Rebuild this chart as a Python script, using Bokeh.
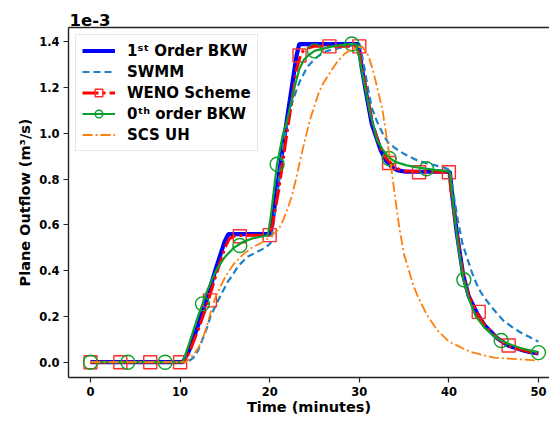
from bokeh.plotting import figure
from bokeh.models import (Range1d, LinearAxis, FixedTicker, Legend, LegendItem,
                          NumeralTickFormatter)
from bokeh.embed import file_html
from bokeh.resources import INLINE

# ---------------- data (values in 1e-3 m^3/s, time in minutes) ----------------
bkw1_t = [0, 10.3, 11, 12, 13, 14, 15, 15.4, 20.1, 20.5, 21, 22, 23, 23.3, 29.9,
          30.3, 30.7, 31.4, 32.4, 33.0, 33.7, 34.3, 35.2, 40.1, 40.4, 40.9, 41.6,
          42.2, 43.2, 44, 45.4, 46.6, 48, 49, 50]
bkw1_y = [0, 0, 0.05, 0.16, 0.28, 0.41, 0.53, 0.56, 0.56, 0.67, 0.81, 1.08, 1.34, 1.39, 1.39,
          1.28, 1.19, 1.04, 0.925, 0.88, 0.85, 0.838, 0.832, 0.832, 0.72, 0.56, 0.38,
          0.29, 0.21, 0.16, 0.105, 0.073, 0.055, 0.045, 0.038]

swmm_t = [0, 10.8, 11.5, 12, 12.5, 13, 13.4, 14, 14.5, 15.3, 16, 16.5, 17.5, 18.5, 19.5,
          20.1, 20.5, 21, 21.6, 22.3, 23, 23.4, 24.2, 24.9, 25.5, 26.4, 27.5, 28.5, 29.5,
          30.1, 30.5, 31, 31.4, 32, 32.6, 33.2, 34, 35, 36.3, 37.4, 38.5, 39.5, 40.1,
          40.5, 41, 41.5, 42, 42.5, 43, 43.5, 44, 45, 46, 47, 48, 49, 50]
swmm_y = [0, 0, 0.02, 0.05, 0.10, 0.15, 0.20, 0.25, 0.29, 0.35, 0.39, 0.42, 0.46, 0.48, 0.50,
          0.52, 0.62, 0.79, 0.97, 1.11, 1.19, 1.23, 1.29, 1.32, 1.34, 1.36, 1.37, 1.38, 1.385,
          1.38, 1.30, 1.19, 1.11, 1.05, 1.0, 0.96, 0.935, 0.91, 0.885, 0.87, 0.86, 0.85, 0.84,
          0.74, 0.62, 0.52, 0.46, 0.40, 0.35, 0.31, 0.28, 0.23, 0.185, 0.155, 0.13, 0.11, 0.09]

weno_t = [0, 10.4, 11, 12, 13, 14, 15, 15.5, 16, 17, 20, 20.3, 21, 22, 23, 23.5, 24, 25,
          29.8, 30.3, 30.8, 31.5, 32.4, 33, 33.8, 34.5, 35, 40, 40.3, 40.9, 41.6, 42.2,
          43.2, 44, 45.4, 46.6, 48, 49, 50]
weno_y = [0, 0, 0.04, 0.14, 0.25, 0.38, 0.50, 0.54, 0.55, 0.555, 0.555, 0.60, 0.75, 1.02,
          1.28, 1.35, 1.37, 1.38, 1.38, 1.29, 1.18, 1.04, 0.93, 0.89, 0.86, 0.84, 0.835,
          0.83, 0.73, 0.56, 0.38, 0.29, 0.21, 0.16, 0.105, 0.073, 0.055, 0.045, 0.038]
weno_mark_t = [0, 3.33, 6.67, 10, 13.33, 16.67, 20, 23.33, 26.67, 30, 33.33, 36.67, 40, 43.33, 46.67]
weno_mark_y = [0, 0, 0, 0, 0.27, 0.55, 0.555, 1.34, 1.38, 1.38, 0.87, 0.83, 0.83, 0.22, 0.073]

bkw0_t = [0, 10.3, 11, 12, 12.5, 13, 14, 15, 16, 17, 18, 19, 19.8, 20.1, 20.8, 21.5, 21.9,
          22.7, 23.3, 23.8, 24.3, 25, 26, 27, 28, 29, 29.6, 30, 30.5, 31.2, 32, 32.6,
          33.3, 34, 35.3, 36.3, 37.4, 38.4, 39.4, 40.1, 40.5, 41, 41.6, 42.2, 43, 44,
          45, 45.8, 47, 48, 49, 50]
bkw0_y = [0, 0, 0.08, 0.20, 0.255, 0.31, 0.40, 0.46, 0.50, 0.525, 0.54, 0.548, 0.555, 0.63,
          0.86, 1.0, 1.05, 1.19, 1.28, 1.32, 1.34, 1.36, 1.37, 1.38, 1.385, 1.39, 1.39,
          1.33, 1.23, 1.09, 0.97, 0.93, 0.895, 0.875, 0.86, 0.852, 0.846, 0.84, 0.837,
          0.833, 0.68, 0.52, 0.365, 0.28, 0.20, 0.15, 0.115, 0.095, 0.075, 0.062, 0.052, 0.044]
bkw0_mark_t = [0, 4.17, 8.33, 12.5, 16.67, 20.83, 25, 29.17, 33.33, 37.5, 41.67, 45.83, 50]
bkw0_mark_y = [0, 0, 0, 0.255, 0.51, 0.865, 1.36, 1.39, 0.89, 0.845, 0.36, 0.095, 0.042]

scs_t = [0, 10.6, 11.2, 12, 12.5, 13, 13.5, 14, 14.5, 15, 16, 17, 18, 19, 20, 21, 21.5,
         22, 22.5, 23, 23.5, 24, 24.5, 25, 25.5, 26, 26.8, 27.5, 28.3, 29, 29.8, 30.3,
         31, 31.5, 32, 32.6, 33.1, 33.6, 34, 34.5, 35, 36, 36.5, 37.5, 38.7, 40, 42.4,
         45, 50]
scs_y = [0, 0, 0.02, 0.06, 0.10, 0.16, 0.23, 0.29, 0.33, 0.37, 0.43, 0.47, 0.50, 0.52,
         0.545, 0.58, 0.62, 0.67, 0.73, 0.81, 0.90, 0.98, 1.06, 1.12, 1.18, 1.22, 1.27,
         1.31, 1.345, 1.365, 1.375, 1.38, 1.34, 1.28, 1.20, 1.10, 0.97, 0.84, 0.72, 0.58,
         0.47, 0.34, 0.29, 0.21, 0.14, 0.09, 0.045, 0.02, 0.007]

x_ticks = [0, 10, 20, 30, 40, 50]
y_ticks = [0.0, 0.2, 0.4, 0.6, 0.8, 1.0, 1.2, 1.4]

labels = ["1\u02e2\u1d57 Order BKW", "SWMM", "WENO Scheme", "0\u1d57\u02b0 order BKW", "SCS UH"]

# ---------------- figure ----------------
FONT = "DejaVu Sans"
p = figure(width=549, height=423, output_backend="svg", toolbar_location=None,
           x_range=Range1d(-2.455, 51.23), y_range=Range1d(-0.0668, 1.4623),
           x_axis_label="Time (minutes)", y_axis_label="Plane Outflow (m\u00b3/s)",
           min_border_left=68, min_border_right=0, min_border_top=27, min_border_bottom=46)
p.outline_line_color = None
p.xgrid.visible = False
p.ygrid.visible = False
p.background_fill_color = "white"

p.title.text = "1e-3"
p.title.text_font = FONT
p.title.text_font_style = "bold"
p.title.text_font_size = "16.5px"
p.title.text_color = "black"
p.title.align = "left"
p.title.offset = 1
p.title.standoff = 3

for ax in (p.xaxis[0], p.yaxis[0]):
    ax.axis_line_color = "#222222"
    ax.axis_line_width = 1.4
    ax.major_tick_line_color = "#222222"
    ax.major_tick_line_width = 1.2
    ax.major_tick_out = 5
    ax.major_tick_in = 0
    ax.minor_tick_line_color = None
    ax.major_label_text_font = FONT
    ax.major_label_text_font_style = "bold"
    ax.major_label_text_font_size = "11.5px"
    ax.major_label_text_color = "black"
    ax.axis_label_text_font = FONT
    ax.axis_label_text_font_style = "bold"
    ax.axis_label_text_font_size = "14.5px"
    ax.axis_label_text_color = "black"

p.xaxis.major_label_standoff = 4
p.xaxis.axis_label_standoff = 0
p.yaxis.major_label_standoff = 4
p.yaxis.axis_label_standoff = 3

p.xaxis.ticker = FixedTicker(ticks=x_ticks)
p.yaxis.ticker = FixedTicker(ticks=y_ticks)
p.yaxis.formatter = NumeralTickFormatter(format="0.0")

top = LinearAxis(axis_line_color="#222222", axis_line_width=1.4,
                 major_tick_line_color=None, minor_tick_line_color=None,
                 major_label_text_font_size="0px", major_label_standoff=0,
                 major_tick_out=0, major_tick_in=0, ticker=FixedTicker(ticks=[]))
p.add_layout(top, "above")

# ---------------- series ----------------
r_b1 = p.line(bkw1_t, bkw1_y, line_color="#0000ff", line_width=4.2)
r_sw = p.line(swmm_t, swmm_y, line_color="#1f80c6", line_width=2.2, line_dash="7 4")
r_we = p.line(weno_t, weno_y, line_color="#ff0000", line_width=3, line_dash="16 4 3 4")
r_wem = p.scatter(weno_mark_t, weno_mark_y, marker="square", size=13, fill_color=None,
                  line_color="#ff2a2a", line_width=1.4)
r_b0 = p.line(bkw0_t, bkw0_y, line_color="#0ca02c", line_width=2.2)
r_b0m = p.scatter(bkw0_mark_t, bkw0_mark_y, marker="circle", size=14, fill_color=None,
                  line_color="#0ca02c", line_width=1.4)
r_sc = p.line(scs_t, scs_y, line_color="#ff7f0e", line_width=1.8, line_dash="10 3 2 3")

legend = Legend(items=[
    LegendItem(label=labels[0], renderers=[r_b1]),
    LegendItem(label=labels[1], renderers=[r_sw]),
    LegendItem(label=labels[2], renderers=[r_we, r_wem]),
    LegendItem(label=labels[3], renderers=[r_b0, r_b0m]),
    LegendItem(label=labels[4], renderers=[r_sc]),
], location="top_left")
legend.label_text_font = FONT
legend.label_text_font_style = "bold"
legend.label_text_font_size = "15px"
legend.label_text_color = "black"
legend.glyph_width = 33
legend.glyph_height = 19
legend.label_height = 19
legend.label_standoff = 12
legend.spacing = 2
legend.padding = 6
legend.margin = 7
legend.border_line_color = "#d0d0d0"
legend.border_line_width = 1
legend.background_fill_alpha = 0.85
p.add_layout(legend)

open("out.html", "w").write(file_html(p, INLINE))
